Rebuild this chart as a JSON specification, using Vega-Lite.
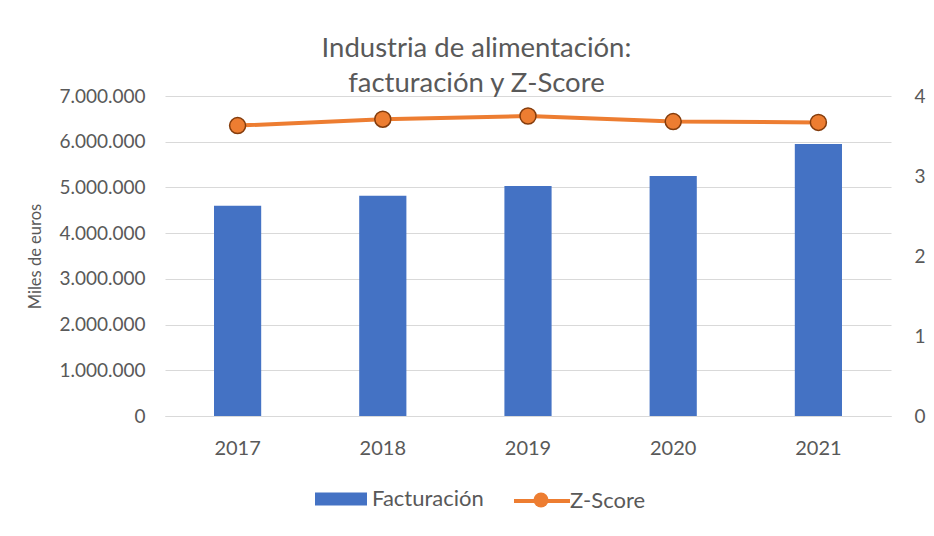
{
  "$schema": "https://vega.github.io/schema/vega-lite/v6.json",
  "width": 726,
  "height": 320,
  "autosize": {"type": "none"},
  "padding": {"left": 165, "top": 96, "right": 43, "bottom": 120},
  "background": "white",
  "config": {
    "locale": {"number": {"decimal": ",", "thousands": ".", "grouping": [3], "currency": ["", " €"]}},
    "font": "Lato",
    "view": {"stroke": null},
    "legend": {"padding": 0, "titlePadding": 0}
  },
  "title": {
    "text": ["Industria de alimentación:", "facturación y Z-Score"],
    "font": "Lato",
    "fontSize": 27.5,
    "fontWeight": "normal",
    "color": "#595959",
    "anchor": "middle",
    "frame": "bounds",
    "offset": -10,
    "lineHeight": 35
  },
  "data": {
    "values": [
      {"year": "2017", "facturacion": 4600000, "zscore": 3.63},
      {"year": "2018", "facturacion": 4820000, "zscore": 3.71},
      {"year": "2019", "facturacion": 5030000, "zscore": 3.75},
      {"year": "2020", "facturacion": 5250000, "zscore": 3.68},
      {"year": "2021", "facturacion": 5950000, "zscore": 3.67}
    ]
  },
  "encoding": {
    "x": {
      "field": "year",
      "type": "ordinal",
      "scale": {"paddingInner": 0.675, "paddingOuter": 0.3375},
      "axis": {
        "title": null,
        "labelAngle": 0,
        "labelFont": "Lato",
        "labelFontSize": 20,
        "labelColor": "#595959",
        "labelPadding": 22,
        "ticks": false,
        "domain": true,
        "domainColor": "#D9D9D9",
        "domainWidth": 1,
        "grid": false
      }
    }
  },
  "layer": [
    {
      "mark": {"type": "bar"},
      "encoding": {
        "y": {
          "field": "facturacion",
          "type": "quantitative",
          "scale": {"domain": [0, 7000000], "nice": false},
          "axis": {
            "orient": "left",
            "title": "Miles de euros",
            "titleFont": "Lato",
            "titleFontSize": 16.5,
            "titleFontWeight": "normal",
            "titleColor": "#595959",
            "titlePadding": 15,
            "values": [0, 1000000, 2000000, 3000000, 4000000, 5000000, 6000000, 7000000],
            "format": ",d",
            "labelFont": "Lato",
            "labelFontSize": 19,
            "labelColor": "#595959",
            "labelPadding": 20,
            "ticks": false,
            "domain": false,
            "grid": true,
            "gridColor": "#D9D9D9",
            "gridWidth": 1
          }
        },
        "fill": {
          "datum": "Facturación",
          "scale": {"range": ["#4472C4"]},
          "legend": {
            "title": null,
            "orient": "none",
            "legendX": 150,
            "legendY": 377,
            "symbolType": "M-1,-0.25H1V0.25H-1Z",
            "symbolSize": 2704,
            "symbolStrokeWidth": 0,
            "labelFont": "Lato",
            "labelFontSize": 22,
            "labelColor": "#595959",
            "labelOffset": 5
          }
        }
      }
    },
    {
      "layer": [
        {
          "mark": {"type": "line", "strokeWidth": 4},
          "encoding": {
            "stroke": {
              "datum": "Z-Score",
              "scale": {"range": ["#ED7D31"]},
              "legend": {
                "title": null,
                "orient": "none",
                "legendX": 347,
                "legendY": 375,
                "symbolType": "M-1,0H1",
                "symbolSize": 3136,
                "symbolStrokeWidth": 4,
                "labelFont": "Lato",
                "labelFontSize": 22,
                "labelColor": "#595959",
                "labelOffset": -2
              }
            }
          }
        },
        {
          "mark": {"type": "point", "filled": false, "fill": "#ED7D31", "fillOpacity": 1, "stroke": "#843C0C", "strokeWidth": 1.5, "size": 256, "opacity": 1},
          "encoding": {
            "shape": {
              "datum": "marker",
              "scale": {"range": ["circle"]},
              "legend": {
                "title": null,
                "orient": "none",
                "legendX": 367.5,
                "legendY": 395.5,
                "symbolSize": 225,
                "symbolFillColor": "#ED7D31",
                "symbolStrokeColor": "#843C0C",
                "symbolStrokeWidth": 1.5,
                "symbolOpacity": 1,
                "labelExpr": "''",
                "labelFontSize": 1,
                "encode": {
                  "symbols": {
                    "update": {
                      "fill": {"value": "#ED7D31"},
                      "stroke": {"value": "#843C0C"},
                      "strokeWidth": {"value": 1.5}
                    }
                  }
                }
              }
            }
          }
        }
      ],
      "encoding": {
        "y": {
          "field": "zscore",
          "type": "quantitative",
          "scale": {"domain": [0, 4], "nice": false},
          "axis": {
            "orient": "right",
            "title": null,
            "values": [0, 1, 2, 3, 4],
            "format": "d",
            "labelFont": "Lato",
            "labelFontSize": 19,
            "labelColor": "#595959",
            "labelPadding": 23,
            "ticks": false,
            "domain": false,
            "grid": false
          }
        }
      }
    }
  ],
  "resolve": {"scale": {"y": "independent"}}
}
